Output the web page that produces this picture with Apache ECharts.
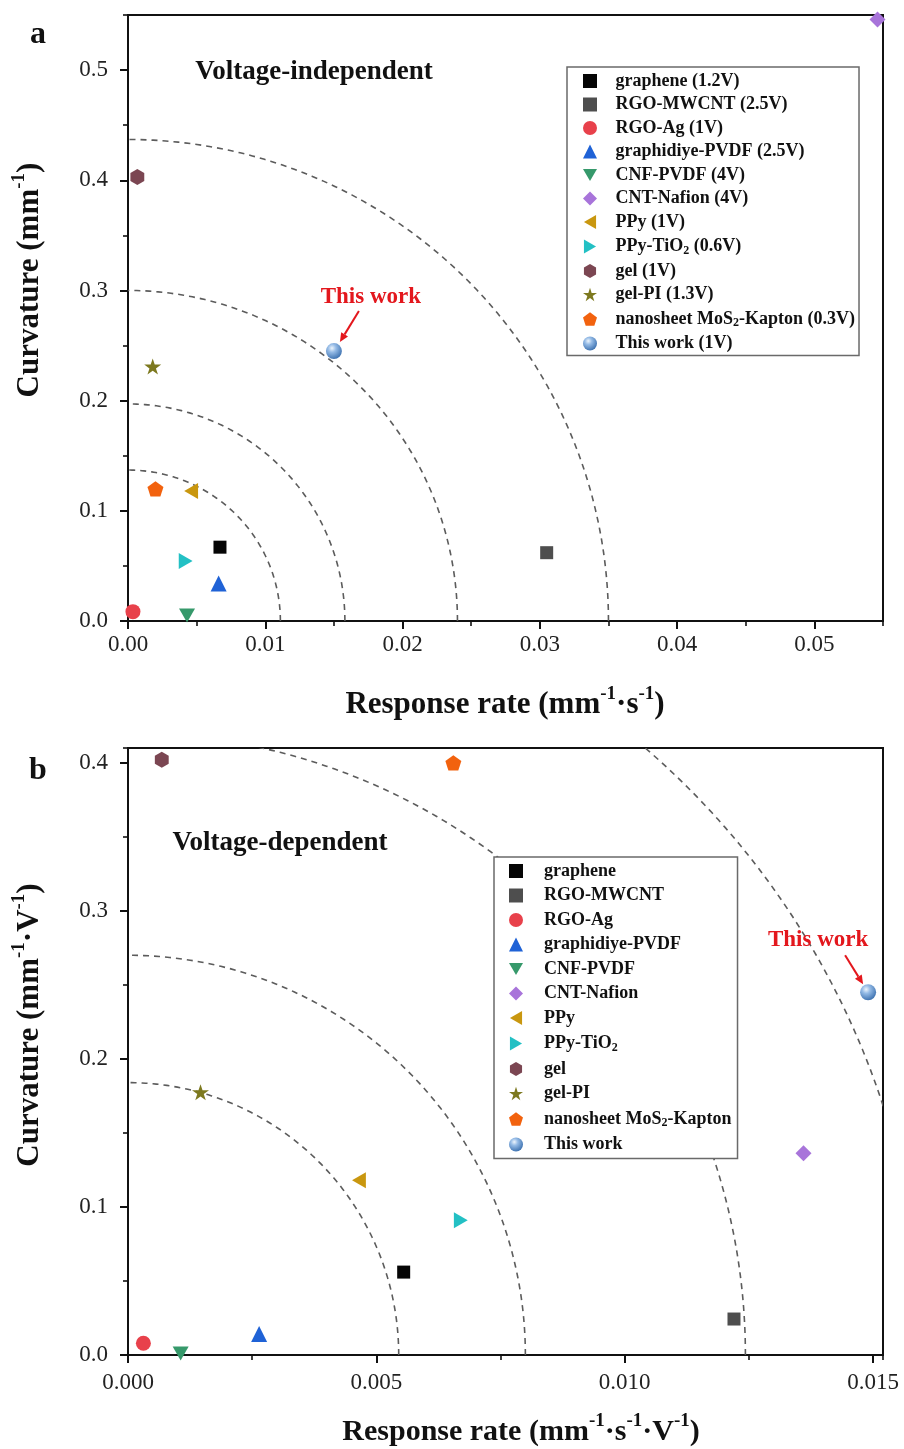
<!DOCTYPE html>
<html>
<head>
<meta charset="utf-8">
<script src="https://cdn.jsdelivr.net/npm/echarts@6/dist/echarts.min.js"></script>
<style>
  html, body { margin: 0; padding: 0; background: #fff; }
  #chart { width: 904px; height: 1449px; }
</style>
</head>
<body>
<div id="chart"></div>
<script>
// ---------------- data ----------------
const materials = ['graphene', 'RGO-MWCNT', 'RGO-Ag', 'graphidiye-PVDF', 'CNF-PVDF', 'CNT-Nafion',
  'PPy', 'PPy-TiO₂', 'gel', 'gel-PI', 'nanosheet MoS₂-Kapton', 'This work'];
const voltages = ['1.2V', '2.5V', '1V', '2.5V', '4V', '4V', '1V', '0.6V', '1V', '1.3V', '0.3V', '1V'];

// (a) voltage-independent: response rate (mm^-1 s^-1), curvature (mm^-1)
const rateA = [0.0067, 0.0305, 0.00036, 0.0066, 0.0043, 0.0546, 0.0046, 0.0042, 0.00068, 0.0018, 0.002, 0.015];
const curvA = [0.067, 0.062, 0.0085, 0.034, 0.005, 0.546, 0.118, 0.0545, 0.403, 0.231, 0.12, 0.245];

// (b) voltage-dependent: response rate (mm^-1 s^-1 V^-1), curvature (mm^-1 V^-1)
const rateB = [0.00555, 0.0122, 0.00031, 0.00264, 0.00106, 0.0136, 0.00465, 0.0067, 0.00068, 0.00146, 0.00655, 0.0149];
const curvB = [0.056, 0.0243, 0.0079, 0.0142, 0.001, 0.1363, 0.118, 0.091, 0.402, 0.1775, 0.40, 0.245];

// dashed guide arcs, [x-radius, y-radius]
const arcsA = [[0.0111, 0.137], [0.0158, 0.197], [0.024, 0.30], [0.035, 0.437]];
const arcsB = [[0.00545, 0.184], [0.008, 0.27], [0.01243, 0.42], [0.016, 0.54]];

// axis ranges: [min, max, major interval, minor interval]
const xRangeA = [0, 0.055, 0.01, 0.005];
const yRangeA = [0, 0.55, 0.1, 0.05];
const xRangeB = [0, 0.0152, 0.005, 0.0025];
const yRangeB = [0, 0.41, 0.1, 0.05];
const xDigitsA = 2, yDigitsA = 1, xDigitsB = 3, yDigitsB = 1;

// ---------------- styling ----------------
const SERIF = "'Liberation Serif', 'Times New Roman', 'DejaVu Serif', serif";
const HEX = 'path://M0,-10L8.66,-5L8.66,5L0,10L-8.66,5L-8.66,-5Z';
const PENT = 'path://M0,-10L9.51,-3.09L5.88,8.09L-5.88,8.09L-9.51,-3.09Z';
const STAR = 'path://M0,-10L2.245,-3.09L9.51,-3.09L3.633,1.18L5.878,8.09L0,3.82L-5.878,8.09L-3.633,1.18L-9.51,-3.09L-2.245,-3.09Z';
const TRI_DOWN = 'path://M-10,-8.66L10,-8.66L0,8.66Z';
const TRI_LEFT = 'path://M-8.66,0L8.66,-10L8.66,10Z';
const TRI_RIGHT = 'path://M8.66,0L-8.66,-10L-8.66,10Z';
const DIAMOND = 'path://M0,-10L10,0L0,10L-10,0Z';
const sphere = {
  type: 'radial', x: 0.38, y: 0.32, r: 0.72,
  colorStops: [{ offset: 0, color: '#eef5fc' }, { offset: 0.35, color: '#95bbe6' }, { offset: 1, color: '#3a6fae' }]
};
const marks = [
  { symbol: 'rect', size: 13, color: '#050505' },
  { symbol: 'rect', size: 13, color: '#4e4e4e' },
  { symbol: 'circle', size: 15, color: '#e8414b' },
  { symbol: 'triangle', size: 16, color: '#1f62d6' },
  { symbol: TRI_DOWN, size: 16, color: '#36996b' },
  { symbol: DIAMOND, size: 16, color: '#a874da' },
  { symbol: TRI_LEFT, size: 16, color: '#c9970f' },
  { symbol: TRI_RIGHT, size: 16, color: '#23c0c4' },
  { symbol: HEX, size: 16, color: '#7b4652' },
  { symbol: STAR, size: 17, color: '#7d791f' },
  { symbol: PENT, size: 16, color: '#f2620e' },
  { symbol: 'circle', size: 16, color: sphere }
];

const namesA = materials.map((m, i) => `${m} (${voltages[i]})`);
const namesB = materials.slice();

function scatterSeries(xi, yi, names, rates, curvs) {
  return names.map((name, i) => ({
    type: 'scatter', name, xAxisIndex: xi, yAxisIndex: yi,
    data: [[rates[i], curvs[i]]],
    symbol: marks[i].symbol, symbolSize: marks[i].size,
    symbolKeepAspect: true,
    itemStyle: { color: marks[i].color, opacity: 1 },
    emphasis: { disabled: true },
    z: 5
  }));
}

function arcSeries(xi, yi, arcs) {
  return {
    type: 'custom', xAxisIndex: xi, yAxisIndex: yi, data: arcs, clip: true, silent: true, z: 2,
    renderItem: (params, api) => {
      const rx = api.value(0), ry = api.value(1);
      const pts = [];
      for (let k = 0; k <= 120; k++) {
        const t = (k / 120) * Math.PI / 2;
        pts.push(api.coord([rx * Math.cos(t), ry * Math.sin(t)]));
      }
      return {
        type: 'polyline', shape: { points: pts },
        style: { stroke: '#5c5c5c', lineWidth: 1.6, lineDash: [6, 5], fill: null }
      };
    }
  };
}

function mainAxis(dim, gridIndex, range, digits, margin) {
  return {
    type: 'value', gridIndex, min: range[0], max: range[1], interval: range[2],
    position: dim === 'x' ? 'bottom' : 'left', offset: 0,
    axisLine: { show: true, onZero: false, lineStyle: { color: '#111', width: 2 } },
    axisTick: { show: true, inside: false, length: 8, lineStyle: { color: '#111', width: 2 } },
    axisLabel: {
      show: true, margin, showMaxLabel: false, showMinLabel: true,
      formatter: v => v.toFixed(digits),
      color: '#222', fontFamily: SERIF, fontSize: 23
    },
    splitLine: { show: false }, minorTick: { show: false }, minorSplitLine: { show: false }
  };
}
function minorAxis(dim, gridIndex, range) {
  return {
    type: 'value', gridIndex, min: range[0], max: range[1], interval: range[3],
    position: dim === 'x' ? 'bottom' : 'left', offset: 0,
    axisLine: { show: false, onZero: false },
    axisTick: { show: true, inside: false, length: 5, lineStyle: { color: '#111', width: 1.6 } },
    axisLabel: { show: false },
    splitLine: { show: false }
  };
}

const legendText = {
  fontFamily: SERIF, fontWeight: 'bold', fontSize: 18, color: '#111',
  rich: {
    sp: { width: 14 },
    n: { fontFamily: SERIF, fontWeight: 'bold', fontSize: 18, lineHeight: 18, color: '#111' },
    sub: { fontFamily: SERIF, fontWeight: 'bold', fontSize: 12, lineHeight: 12, color: '#111', padding: [8, 0, 0, 0] }
  }
};
const legendFormatter = name => '{sp|}' + name.split('₂').map(s => `{n|${s}}`).join('{sub|2}');

function legendBox(names, left, top, gap, padding, sp) {
  const ts = JSON.parse(JSON.stringify(legendText));
  ts.rich.sp.width = sp;
  return {
    data: names, orient: 'vertical', left, top, padding, itemGap: gap,
    itemWidth: 14, itemHeight: 14, symbolKeepAspect: true,
    backgroundColor: '#fff', borderColor: '#6a6a6a', borderWidth: 1.5, borderRadius: 0,
    selectedMode: false, textStyle: ts, formatter: legendFormatter, z: 10
  };
}

const chart = echarts.init(document.getElementById('chart'), null, { renderer: 'canvas' });
chart.setOption({
  animation: false,
  backgroundColor: '#fff',
  textStyle: { fontFamily: SERIF },
  grid: [
    { left: 128, top: 15, width: 755, height: 606, show: true, borderColor: '#111', borderWidth: 2, backgroundColor: 'transparent', containLabel: false, outerBoundsMode: 'none' },
    { left: 128, top: 748, width: 755, height: 607, show: true, borderColor: '#111', borderWidth: 2, backgroundColor: 'transparent', containLabel: false, outerBoundsMode: 'none' }
  ],
  xAxis: [
    mainAxis('x', 0, xRangeA, xDigitsA, 12), minorAxis('x', 0, xRangeA),
    mainAxis('x', 1, xRangeB, xDigitsB, 16), minorAxis('x', 1, xRangeB)
  ],
  yAxis: [
    mainAxis('y', 0, yRangeA, yDigitsA, 20), minorAxis('y', 0, yRangeA),
    mainAxis('y', 1, yRangeB, yDigitsB, 20), minorAxis('y', 1, yRangeB)
  ],
  legend: [
    legendBox(namesA, 567, 67, 5.5, [5, 4, 3, 16], 13.5),
    legendBox(namesB, 494, 857, 6.5, [5, 6, 5, 15], 16)
  ],
  series: [
    arcSeries(0, 0, arcsA),
    ...scatterSeries(0, 0, namesA, rateA, curvA),
    arcSeries(2, 2, arcsB),
    ...scatterSeries(2, 2, namesB, rateB, curvB)
  ]
});

// ---------------- titles and annotations ----------------
const titleRich = {
  t: { fontFamily: SERIF, fontWeight: 'bold', fontSize: 31, color: '#111', lineHeight: 34 },
  s: { fontFamily: SERIF, fontWeight: 'bold', fontSize: 19, color: '#111', lineHeight: 19, padding: [0, 0, 22, 0] }
};
const titleRichB = JSON.parse(JSON.stringify(titleRich));
titleRichB.t.fontSize = 30;
function titleText(x, y, text, rotation, rich) {
  return {
    type: 'text', x, y, rotation: rotation || 0, z: 20, silent: true,
    style: { text, rich: rich || titleRich, align: 'center', verticalAlign: 'middle', fill: '#111' }
  };
}
function plainText(x, y, text, size, color) {
  return {
    type: 'text', x, y, z: 20, silent: true,
    style: { text, fontFamily: SERIF, fontWeight: 'bold', fontSize: size, fill: color, align: 'center', verticalAlign: 'middle' }
  };
}
function arrow(tail, tip, color) {
  const dx = tip[0] - tail[0], dy = tip[1] - tail[1];
  const len = Math.hypot(dx, dy), ux = dx / len, uy = dy / len;
  const hl = 9, hw = 4;
  const base = [tip[0] - ux * hl, tip[1] - uy * hl];
  return [
    { type: 'line', z: 20, silent: true, shape: { x1: tail[0], y1: tail[1], x2: base[0], y2: base[1] }, style: { stroke: color, lineWidth: 2 } },
    { type: 'polygon', z: 20, silent: true, shape: { points: [tip, [base[0] - uy * hw, base[1] + ux * hw], [base[0] + uy * hw, base[1] - ux * hw]] }, style: { fill: color } }
  ];
}

const RED = '#e3171d';
const pa = chart.convertToPixel({ seriesIndex: 12 }, [rateA[11], curvA[11]]);
const pb = chart.convertToPixel({ seriesIndex: 25 }, [rateB[11], curvB[11]]);

chart.setOption({
  graphic: { elements: [
    plainText(38, 35, 'a', 32, '#111'),
    plainText(38, 771, 'b', 32, '#111'),
    plainText(314, 72, 'Voltage-independent', 27, '#111'),
    plainText(280, 843, 'Voltage-dependent', 27, '#111'),
    titleText(505, 705, '{t|Response rate (mm}{s|-1}{t|·s}{s|-1}{t|)}'),
    titleText(521, 1432, '{t|Response rate (mm}{s|-1}{t|·s}{s|-1}{t|·V}{s|-1}{t|)}', 0, titleRichB),
    titleText(30, 280, '{t|Curvature (mm}{s|-1}{t|)}', Math.PI / 2),
    titleText(30, 1025, '{t|Curvature (mm}{s|-1}{t|·V}{s|-1}{t|)}', Math.PI / 2),
    plainText(pa[0] + 37, pa[1] - 54, 'This work', 23, RED),
    ...arrow([pa[0] + 25, pa[1] - 40], [pa[0] + 6, pa[1] - 9], RED),
    plainText(pb[0] - 50, pb[1] - 52, 'This work', 23, RED),
    ...arrow([pb[0] - 23, pb[1] - 37], [pb[0] - 5, pb[1] - 8], RED)
  ] }
});
</script>
</body>
</html>
